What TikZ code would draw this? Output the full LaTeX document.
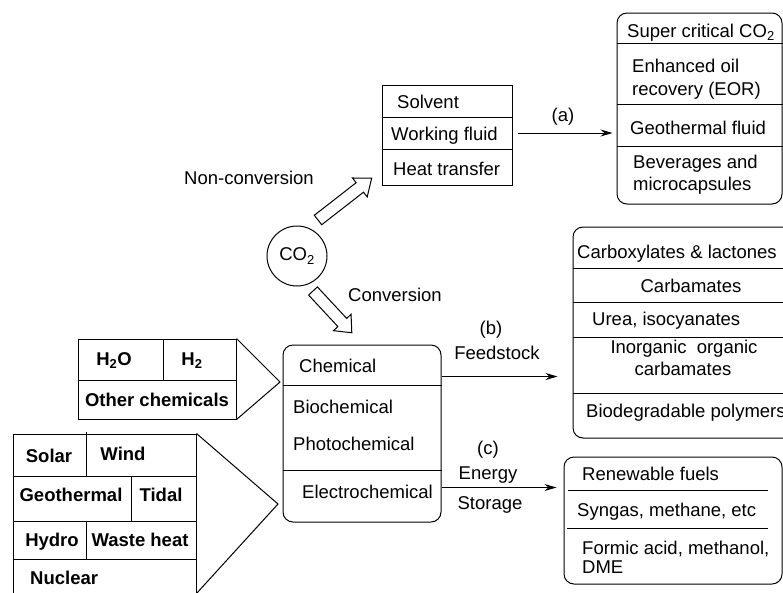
\documentclass[tikz,border=0pt]{standalone}
\usepackage{fontspec}
\setmainfont{Liberation Sans}
\usetikzlibrary{arrows.meta,calc}
\begin{document}
\begin{tikzpicture}[x=1pt,y=-1pt,
  every node/.style={inner sep=0pt},
  box/.style={draw, line width=1pt},
  rbox/.style={draw, line width=1pt, rounded corners=10pt},
  lbl/.style={font=\fontsize{18.5}{22}\selectfont, text height=13pt, text depth=0pt},
  blbl/.style={font=\fontsize{18.5}{22}\selectfont\bfseries, text height=13pt, text depth=0pt},
  ln/.style={line width=1pt},
  conn/.style={line width=1pt, -{Stealth[length=12pt,width=7pt]}},
  hollow/.style={line width=1pt, fill=white, line join=miter}]
\useasboundingbox (0,0) rectangle (783,592);

% ---- top right box
\node[rbox, minimum width=165pt, minimum height=191pt] (tr) at (699.5,108.5) {};
\draw[ln] (tr.west |- 0,43) -- (tr.east |- 0,43);
\draw[ln] (tr.west |- 0,104) -- (tr.east |- 0,104);
\draw[ln] (tr.west |- 0,146) -- (tr.east |- 0,146);
\node[lbl, anchor=west] (tr1) at (627,31) {Super critical CO\textsubscript{2}};
\node[lbl, anchor=west] (tr2) at (632,66) {Enhanced oil};
\node[lbl, anchor=west] (tr3) at (632,89) {recovery (EOR)};
\node[lbl, anchor=west] (tr4) at (630,128) {Geothermal fluid};
\node[lbl, anchor=west] (tr5) at (633,162) {Beverages and};
\node[lbl, anchor=west] (tr6) at (633,184) {microcapsules};

% ---- solvent box
\node[box, minimum width=130pt, minimum height=100pt] (solv) at (447,135) {};
\draw[ln] (solv.west |- 0,117) -- (solv.east |- 0,117);
\draw[ln] (solv.west |- 0,149) -- (solv.east |- 0,149);
\node[lbl, anchor=west] (s1) at (397,102) {Solvent};
\node[lbl, anchor=west] (s2) at (391,134) {Working fluid};
\node[lbl, anchor=west] (s3) at (393,169) {Heat transfer};

\draw[conn, shorten <=5pt, shorten >=4pt] ([yshift=2pt]solv.east) -- ([yshift=2pt]solv.east -| tr.west);
\node[lbl] (la) at (563,115) {(a)};

% ---- CO2
\node[draw, circle, line width=1pt, minimum size=60pt, font=\fontsize{18.5}{22}\selectfont] (co2) at (297,256) {CO\textsubscript{2}};
\node[lbl] (nc) at (249,178) {Non-conversion};
\node[lbl] (cv) at (395,295) {Conversion};

\begin{scope}[shift={(318,220)}, rotate=37.9]
\draw[hollow] (0,-6) -- (53,-6) -- (53,-12) -- (68,0) -- (53,12) -- (53,6) -- (0,6) -- cycle;
\end{scope}
\begin{scope}[shift={(313,291)}, rotate=-47.1]
\draw[hollow] (0,-6) -- (43,-6) -- (43,-12) -- (57,0) -- (43,12) -- (43,6) -- (0,6) -- cycle;
\end{scope}

% ---- H2O box
\node[box, minimum width=158pt, minimum height=80pt] (h2o) at (157,379) {};
\draw[ln] (h2o.west |- 0,380) -- (h2o.east |- 0,380);
\draw[ln] (163,339) -- (163,380);
\node[blbl] (b1) at (114,359) {H\textsubscript{2}O};
\node[blbl] (b2) at (192,359) {H\textsubscript{2}};
\node[blbl] (b3) at (157,400) {Other chemicals};
\coordinate (tip1) at (280,382);
\draw[ln, line join=miter] (h2o.north east) -- (tip1) -- (h2o.south east);

% ---- energy box
\node[box, minimum width=183pt, minimum height=166pt] (en) at (104.5,517) {};
\draw[ln] (en.west |- 0,476) -- (en.east |- 0,476);
\draw[ln] (en.west |- 0,521) -- (en.east |- 0,521);
\draw[ln] (en.west |- 0,559) -- (en.east |- 0,559);
\draw[ln] (86,432) -- (86,476);
\draw[ln] (131,476) -- (131,521);
\draw[ln] (86,521) -- (86,559);
\node[blbl] (e1) at (49,456) {Solar};
\node[blbl] (e2) at (123,454) {Wind};
\node[blbl] (e3) at (71,495) {Geothermal};
\node[blbl] (e4) at (161,495) {Tidal};
\node[blbl] (e5) at (52,540) {Hydro};
\node[blbl] (e6) at (140,540) {Waste heat};
\node[blbl, anchor=west] (e7) at (30,578) {Nuclear};
\coordinate (tip2) at (278,504);
\coordinate (bot2) at (196,594);
\draw[ln, line join=miter] (en.north east) -- (tip2) -- (bot2);

% ---- middle box
\node[rbox, minimum width=158pt, minimum height=177pt] (mid) at (362,433.5) {};
\draw[ln] (mid.west |- 0,385) -- (mid.east |- 0,385);
\draw[ln] (mid.west |- 0,470) -- (mid.east |- 0,470);
\node[lbl, anchor=west] (m1) at (299,366) {Chemical};
\node[lbl, anchor=west] (m2) at (293,407) {Biochemical};
\node[lbl, anchor=west] (m3) at (293,444) {Photochemical};
\node[lbl, anchor=west] (m4) at (302,492) {Electrochemical};

% ---- feedstock box
\node[rbox, minimum width=222pt, minimum height=211pt] (fs) at (684,332.5) {};
\draw[ln] (fs.west |- 0,268) -- (fs.east |- 0,268);
\draw[ln] (fs.west |- 0,302) -- (fs.east |- 0,302);
\draw[ln] (fs.west |- 0,337) -- (fs.east |- 0,337);
\draw[ln] (fs.west |- 0,393) -- (fs.east |- 0,393);
\node[lbl, anchor=west] (f1) at (577,252) {Carboxylates \& lactones};
\node[lbl] (f2) at (691,286) {Carbamates};
\node[lbl, anchor=west] (f3) at (592,319) {Urea, isocyanates};
\node[lbl] (f4) at (684,347) {Inorganic\hspace{0.55em}organic};
\node[lbl] (f5) at (683,369) {carbamates};
\node[lbl, anchor=west] (f6) at (586,411) {Biodegradable polymers};

\draw[conn, shorten >=15pt] ([yshift=-32pt]mid.north east) -- ([yshift=-32pt]mid.north east -| fs.west);
\node[lbl] (lb) at (491,328) {(b)};
\node[lbl] (lf) at (497,353) {Feedstock};

% ---- renewable fuels box
\node[rbox, minimum width=218pt, minimum height=127pt] (rf) at (673,520.5) {};
\draw[ln] (568,490) -- (768,490);
\draw[ln] (567,528) -- (768,528);
\node[lbl, anchor=west] (r1) at (582,474) {Renewable fuels};
\node[lbl, anchor=west] (r2) at (577,510) {Syngas, methane, etc};
\node[lbl, anchor=west] (r3) at (582,548) {Formic acid, methanol,};
\node[lbl, anchor=west] (r4) at (582,567) {DME};

\draw[conn, shorten >=7pt] ([yshift=-143pt]mid.north east) -- ([yshift=-143pt]mid.north east -| rf.west);
\node[lbl] (lc) at (488,448) {(c)};
\node[lbl] (le) at (488,473) {Energy};
\node[lbl] (ls) at (490,503) {Storage};
\end{tikzpicture}
\end{document}
